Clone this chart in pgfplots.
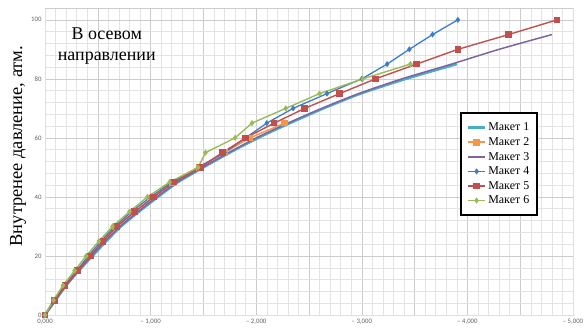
\documentclass[border=0pt]{standalone}
\usepackage{fontspec}
\setmainfont{Liberation Serif}
\newfontfamily\tickfont{Carlito}
\usepackage{pgfplots}
\pgfplotsset{compat=1.18}
\definecolor{c1}{HTML}{4BACC6}
\definecolor{c2}{HTML}{F79646}
\definecolor{c3}{HTML}{8064A2}
\definecolor{c4}{HTML}{3D7CC9}
\definecolor{c5}{HTML}{C0504D}
\definecolor{c6}{HTML}{9BBB59}
\begin{document}
\begin{tikzpicture}
\begin{axis}[
  scale only axis, width=528bp, height=307bp,
  xmin=0, xmax=5, ymin=0, ymax=104,
  xtick={0,0.5,1,1.5,2,2.5,3,3.5,4,4.5,5},
  xticklabels={{0,000},{},{– 1,000},{},{– 2,000},{},{– 3,000},{},{– 4,000},{},{– 5,000}},
  minor x tick num=4,
  ytick={0,20,40,60,80,100},
  yticklabels={0,20,40,60,80,100},
  minor y tick num=4,
  extra y ticks={104}, extra y tick labels={},
  grid=both,
  major grid style={gray!40, line width=0.5bp},
  minor grid style={gray!22, line width=0.5bp},
  major tick length=0, minor tick length=0,
  axis line style={draw=gray!25},
  tick label style={font=\tickfont\fontsize{6.8}{7}\selectfont, text=gray!75!black},
  xticklabel style={yshift=-1bp},
  every axis y label/.style={at={(rel axis cs:0,0.55)}, xshift=-27bp, rotate=90, anchor=center},
  ylabel={\fontsize{18.5}{20}\selectfont Внутренее давление, атм.},
  legend style={at={(rel axis cs:0.786,0.661)}, anchor=north west, draw=black, line width=1.8bp,
    font=\fontsize{12}{14.2}\selectfont, inner xsep=6bp, inner ysep=8bp, row sep=1.2bp, cells={anchor=west}},
  legend cell align=left,
]
\addplot[c1, line width=2.4bp, smooth, tension=0.4] coordinates {
(0,0)(0.1,5)(0.2,10)(0.32,15)(0.45,20)(0.58,25)(0.72,30)(0.89,35)(1.07,40)(1.26,45)(1.5,50)(1.75,55)(2.02,60)(2.32,65)(2.64,70)(2.99,75)(3.42,80)(3.9,85)};
\addlegendentry{Макет 1}
\addplot[c2, line width=1.5bp, mark=square*, mark size=2.6bp, mark options={solid}] coordinates {
(0,0)(0.09,5)(0.19,10)(0.31,15)(0.43,20)(0.55,25)(0.68,30)(0.85,35)(1.03,40)(1.21,45)(1.46,50)(1.70,55)(1.94,60)(2.27,65)};
\addlegendentry{Макет 2}
\addplot[c3, line width=1.5bp, smooth, tension=0.4] coordinates {
(0,0)(0.1,5)(0.2,10)(0.32,15)(0.44,20)(0.57,25)(0.71,30)(0.88,35)(1.06,40)(1.25,45)(1.49,50)(1.74,55)(2.0,60)(2.3,65)(2.62,70)(2.97,75)(3.38,80)(3.85,85)(4.3,90)(4.8,95)};
\addlegendentry{Макет 3}
\addplot[c4, line width=1.3bp, mark=diamond*, mark size=2bp] coordinates {
(0,0)(0.08,5)(0.18,10)(0.3,15)(0.41,20)(0.53,25)(0.66,30)(0.82,35)(1.0,40)(1.2,45)(1.45,50)(1.7,55)(1.9,60)(2.1,65)(2.35,70)(2.67,75)(3.0,80)(3.24,85)(3.45,90)(3.67,95)(3.91,100)};
\addlegendentry{Макет 4}
\addplot[c5, line width=1.4bp, mark=square*, mark size=2.6bp] coordinates {
(0,0)(0.09,5)(0.19,10)(0.31,15)(0.43,20)(0.55,25)(0.68,30)(0.85,35)(1.03,40)(1.22,45)(1.47,50)(1.68,55)(1.9,60)(2.17,65)(2.46,70)(2.79,75)(3.13,80)(3.52,85)(3.91,90)(4.39,95)(4.85,100)};
\addlegendentry{Макет 5}
\addplot[c6, line width=1.4bp, mark=diamond*, mark size=2bp] coordinates {
(0,0)(0.08,5)(0.17,10)(0.28,15)(0.39,20)(0.51,25)(0.64,30)(0.8,35)(0.97,40)(1.18,45)(1.45,50)(1.52,55)(1.8,60)(1.96,65)(2.28,70)(2.6,75)(3.01,80)(3.46,85)};
\addlegendentry{Макет 6}
\node[align=center, font=\fontsize{18}{22}\selectfont, inner sep=0pt] at (rel axis cs:0.117,0.876) {В осевом\\направлении};
\coordinate (sw) at (rel axis cs:0,0);
\coordinate (ne) at (rel axis cs:1,1);
\end{axis}
\pgfresetboundingbox
\useasboundingbox ([shift={(-45bp,-16bp)}]sw) rectangle ([shift={(11bp,8bp)}]ne);
\end{tikzpicture}
\end{document}
